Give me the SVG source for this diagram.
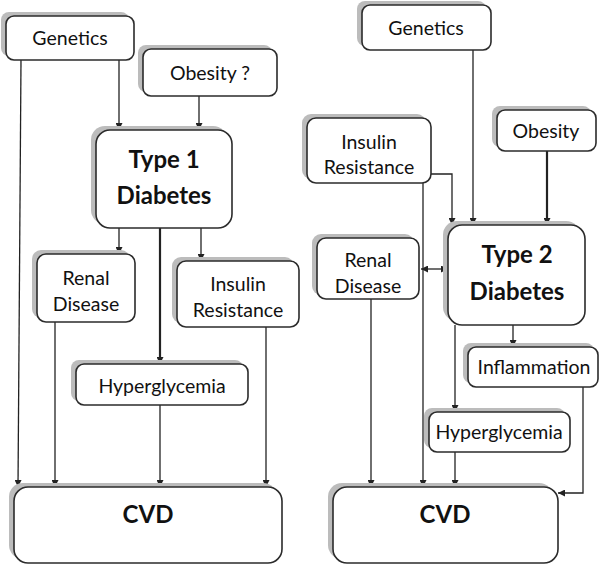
<svg xmlns="http://www.w3.org/2000/svg" width="600" height="565" viewBox="0 0 600 565">
<defs>
<style>
.sh{fill:#bcbcbc}
.bx{fill:#fff;stroke:#2b2b2b;stroke-width:1.6}
.t{font-family:Lato,"Open Sans","Liberation Sans",sans-serif;font-size:19.5px;fill:#111;text-anchor:middle;dominant-baseline:central}
.b{font-family:Lato,"Open Sans","Liberation Sans",sans-serif;font-size:24px;font-weight:bold;fill:#111;text-anchor:middle;dominant-baseline:central}
.c{fill:none;stroke:#222;stroke-width:1.3}
.k{stroke-width:2.2}
</style>
<marker id="ah" viewBox="0 0 10 10" refX="10" refY="5" markerWidth="7" markerHeight="7" markerUnits="userSpaceOnUse" orient="auto-start-reverse">
<path d="M0,0 L10,5 L0,10 z" fill="#222"/>
</marker>
</defs>
<rect width="600" height="565" fill="#fff"/>
<g id="connectors">
<path class="c" d="M21,60 L18,487" marker-end="url(#ah)"/>
<path class="c" d="M119,60 V130" marker-end="url(#ah)"/>
<path class="c" d="M199,96 V130" marker-end="url(#ah)"/>
<path class="c" d="M119,228 V254" marker-end="url(#ah)"/>
<path class="c k" d="M160,228 V364" marker-end="url(#ah)"/>
<path class="c" d="M201,228 V261" marker-end="url(#ah)"/>
<path class="c" d="M55,322 V487" marker-end="url(#ah)"/>
<path class="c" d="M160,405 V487" marker-end="url(#ah)"/>
<path class="c" d="M266,327 V487" marker-end="url(#ah)"/>
<path class="c" d="M473,50 V225" marker-end="url(#ah)"/>
<path class="c k" d="M547,151 V225" marker-end="url(#ah)"/>
<path class="c" d="M431,174 H452 V225" marker-end="url(#ah)"/>
<path class="c" d="M423,183 V487" marker-end="url(#ah)"/>
<path class="c" d="M421,269 H448" marker-start="url(#ah)" marker-end="url(#ah)"/>
<path class="c" d="M371,299 V487" marker-end="url(#ah)"/>
<path class="c" d="M513,325 V347" marker-end="url(#ah)"/>
<path class="c" d="M455,325 V412" marker-end="url(#ah)"/>
<path class="c" d="M455,452 V487" marker-end="url(#ah)"/>
<path class="c" d="M583,387 V493 H558" marker-end="url(#ah)"/>
</g>
<g id="l-genetics">
<rect class="sh" x="1" y="12" width="128" height="44" rx="8"/>
<rect class="bx" x="6" y="16" width="128" height="44" rx="8"/>
<text class="t" x="70" y="37">Genetics</text>
</g>
<g id="l-obesity">
<rect class="sh" x="138" y="45" width="134" height="47" rx="8"/>
<rect class="bx" x="143" y="49" width="134" height="47" rx="8"/>
<text class="t" x="210" y="72">Obesity ?</text>
</g>
<g id="l-type1">
<rect class="sh" x="91" y="126" width="136" height="98" rx="14"/>
<rect class="bx" x="96" y="130" width="136" height="98" rx="14"/>
<text class="b" x="164" y="158">Type 1</text>
<text class="b" x="164" y="194">Diabetes</text>
</g>
<g id="l-renal">
<rect class="sh" x="32" y="250" width="98" height="68" rx="9"/>
<rect class="bx" x="37" y="254" width="98" height="68" rx="9"/>
<text class="t" x="86" y="277">Renal</text>
<text class="t" x="86" y="303">Disease</text>
</g>
<g id="l-insulin">
<rect class="sh" x="172" y="257" width="122" height="66" rx="9"/>
<rect class="bx" x="177" y="261" width="122" height="66" rx="9"/>
<text class="t" x="238" y="283">Insulin</text>
<text class="t" x="238" y="309">Resistance</text>
</g>
<g id="l-hyper">
<rect class="sh" x="71" y="360" width="172" height="41" rx="8"/>
<rect class="bx" x="76" y="364" width="172" height="41" rx="8"/>
<text class="t" x="162" y="385">Hyperglycemia</text>
</g>
<g id="l-cvd">
<rect class="sh" x="9" y="483" width="268" height="76" rx="14"/>
<rect class="bx" x="14" y="487" width="268" height="76" rx="14"/>
<text class="b" x="148" y="513">CVD</text>
</g>
<g id="r-genetics">
<rect class="sh" x="357" y="1" width="129" height="45" rx="8"/>
<rect class="bx" x="362" y="5" width="129" height="45" rx="8"/>
<text class="t" x="426" y="27">Genetics</text>
</g>
<g id="r-insulin">
<rect class="sh" x="302" y="114" width="124" height="65" rx="9"/>
<rect class="bx" x="307" y="118" width="124" height="65" rx="9"/>
<text class="t" x="369" y="141">Insulin</text>
<text class="t" x="369" y="166">Resistance</text>
</g>
<g id="r-obesity">
<rect class="sh" x="492" y="106" width="99" height="41" rx="8"/>
<rect class="bx" x="497" y="110" width="99" height="41" rx="8"/>
<text class="t" x="546" y="130">Obesity</text>
</g>
<g id="r-type2">
<rect class="sh" x="443" y="221" width="137" height="100" rx="14"/>
<rect class="bx" x="448" y="225" width="137" height="100" rx="14"/>
<text class="b" x="517" y="253">Type 2</text>
<text class="b" x="517" y="290">Diabetes</text>
</g>
<g id="r-renal">
<rect class="sh" x="312" y="234" width="102" height="61" rx="9"/>
<rect class="bx" x="317" y="238" width="102" height="61" rx="9"/>
<text class="t" x="368" y="259">Renal</text>
<text class="t" x="368" y="285">Disease</text>
</g>
<g id="r-inflam">
<rect class="sh" x="463" y="343" width="131" height="40" rx="8"/>
<rect class="bx" x="468" y="347" width="130" height="40" rx="8"/>
<text class="t" x="534" y="366">Inflammation</text>
</g>
<g id="r-hyper">
<rect class="sh" x="424" y="408" width="141" height="40" rx="8"/>
<rect class="bx" x="429" y="412" width="141" height="40" rx="8"/>
<text class="t" x="499" y="431">Hyperglycemia</text>
</g>
<g id="r-cvd">
<rect class="sh" x="328" y="483" width="225" height="76" rx="14"/>
<rect class="bx" x="333" y="487" width="225" height="76" rx="14"/>
<text class="b" x="445" y="513">CVD</text>
</g>
</svg>
